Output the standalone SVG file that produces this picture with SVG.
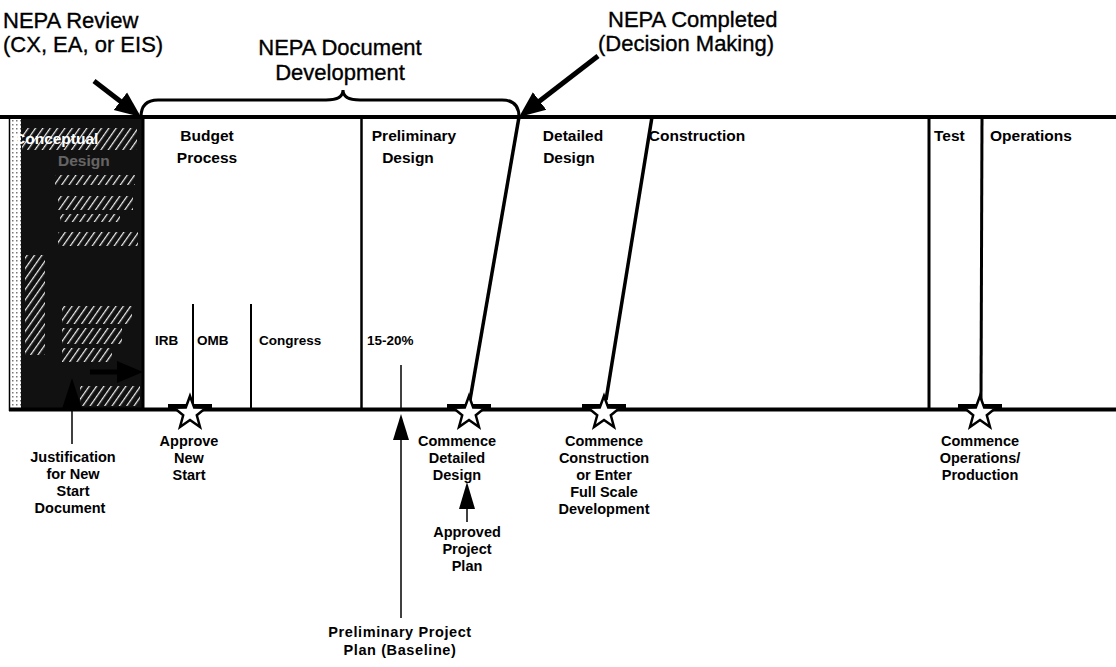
<svg xmlns="http://www.w3.org/2000/svg" width="1116" height="667" viewBox="0 0 1116 667">
<style>
text{font-family:"Liberation Sans",Arial,sans-serif;fill:#000}
.top{font-size:22px;stroke:#000;stroke-width:0.35}
.ph{font-size:15.5px;font-weight:bold}
.sub{font-size:13.5px;font-weight:bold}
.lab{font-size:14.5px;font-weight:bold;text-anchor:middle}
.rule{stroke:#000;fill:none}
.star{fill:#fff;stroke:#000;stroke-width:2.5;stroke-linejoin:miter}
</style>
<defs>
<marker id="ah" markerWidth="28" markerHeight="24" refX="11" refY="12" orient="auto" markerUnits="userSpaceOnUse">
<path d="M0,1 L26,12 L0,23 z" fill="#000"/>
</marker>
<pattern id="hatch" width="6" height="6" patternUnits="userSpaceOnUse" patternTransform="rotate(35)">
<rect width="6" height="6" fill="#111"/>
<line x1="0" y1="0" x2="0" y2="6" stroke="#eee" stroke-width="2.5"/>
</pattern>
<pattern id="dots" width="4" height="4" patternUnits="userSpaceOnUse">
<rect width="4" height="4" fill="#fff"/>
<rect width="1.5" height="1.5" fill="#777"/>
</pattern>
<polygon id="st" class="star" points="0,-17 4.2,-5.5 16,-5.3 6.8,2.3 10,14 0,7 -10,14 -6.8,2.3 -16,-5.3 -4.2,-5.5"/>
</defs>
<rect width="1116" height="667" fill="#fff"/>

<g id="conceptual">
<rect x="9" y="119" width="134" height="290" fill="#111"/>
<rect x="9" y="119" width="12" height="290" fill="url(#dots)"/>
<rect x="22" y="128" width="115" height="22" fill="url(#hatch)"/>
<rect x="55" y="175" width="80" height="10" fill="url(#hatch)"/>
<rect x="58" y="196" width="75" height="14" fill="url(#hatch)"/>
<rect x="60" y="214" width="60" height="8" fill="url(#hatch)"/>
<rect x="58" y="232" width="80" height="14" fill="url(#hatch)"/>
<rect x="25" y="255" width="20" height="100" fill="url(#hatch)"/>
<rect x="62" y="306" width="70" height="18" fill="url(#hatch)"/>
<rect x="62" y="328" width="60" height="16" fill="url(#hatch)"/>
<rect x="62" y="348" width="50" height="14" fill="url(#hatch)"/>
<rect x="80" y="386" width="60" height="20" fill="url(#hatch)"/>
<text x="14" y="144" class="ph" style="fill:#fff">Conceptual</text>
<text x="58" y="166" class="ph" style="fill:#fff;opacity:0.35">Design</text>
<line x1="90" y1="372" x2="120" y2="372" stroke="#000" stroke-width="5"/>
<polygon points="143,372 117,361 117,383" fill="#000"/>
<polygon points="72,378 62,409 82,409" fill="#000"/>
</g>

<g id="frame">
<line class="rule" x1="0" y1="117" x2="1116" y2="117" stroke-width="4"/>
<line class="rule" x1="9" y1="409.5" x2="1116" y2="409.5" stroke-width="4"/>
<line class="rule" x1="9.5" y1="117" x2="9.5" y2="411" stroke-width="1.5"/>
<line class="rule" x1="143" y1="117" x2="143" y2="409" stroke-width="3"/>
<line class="rule" x1="361.5" y1="117" x2="361.5" y2="409" stroke-width="2.5"/>
<line class="rule" x1="519" y1="117" x2="470" y2="400" stroke-width="3.5"/>
<line class="rule" x1="652" y1="117" x2="606" y2="400" stroke-width="3.5"/>
<line class="rule" x1="929" y1="117" x2="929" y2="409" stroke-width="3"/>
<line class="rule" x1="982" y1="117" x2="981" y2="400" stroke-width="3"/>
<line class="rule" x1="193" y1="304" x2="193" y2="409" stroke-width="2"/>
<line class="rule" x1="251" y1="304" x2="251" y2="409" stroke-width="2"/>
<line class="rule" x1="401" y1="365" x2="401" y2="409" stroke-width="1.5"/>
</g>

<g id="phase-labels">
<text x="207" y="141" class="ph" text-anchor="middle">Budget</text>
<text x="207" y="163" class="ph" text-anchor="middle">Process</text>
<text x="414" y="141" class="ph" text-anchor="middle">Preliminary</text>
<text x="408" y="163" class="ph" text-anchor="middle">Design</text>
<text x="573" y="141" class="ph" text-anchor="middle">Detailed</text>
<text x="569" y="163" class="ph" text-anchor="middle">Design</text>
<text x="697" y="141" class="ph" text-anchor="middle">Construction</text>
<text x="934" y="141" class="ph">Test</text>
<text x="990" y="141" class="ph">Operations</text>
<text x="155" y="345" class="sub">IRB</text>
<text x="197" y="345" class="sub">OMB</text>
<text x="259" y="345" class="sub">Congress</text>
<text x="367" y="345" class="sub">15-20%</text>
</g>

<g id="nepa-review">
<text x="3" y="28" class="top">NEPA Review</text>
<text x="3" y="52" class="top">(CX, EA, or EIS)</text>
</g>
<g id="nepa-document">
<text x="340" y="55" class="top" text-anchor="middle">NEPA Document</text>
<text x="340" y="80" class="top" text-anchor="middle">Development</text>
</g>
<g id="nepa-completed">
<text x="608" y="27" class="top">NEPA Completed</text>
<text x="598" y="51" class="top">(Decision Making)</text>
</g>

<g id="connectors">
<line x1="94" y1="81" x2="129.1" y2="107.9" stroke="#000" stroke-width="5" marker-end="url(#ah)"/>
<line x1="598" y1="56" x2="530.9" y2="107.8" stroke="#000" stroke-width="5" marker-end="url(#ah)"/>
<path class="rule" stroke-width="3" d="M141,117 Q141,100 158,100 L326,100 Q343,100 343,90 Q343,100 360,100 L502,100 Q519,100 519,117"/>
<line x1="72" y1="409" x2="72" y2="444" stroke="#000" stroke-width="1.5"/>
<line x1="401" y1="438" x2="401" y2="618" stroke="#000" stroke-width="1.5"/>
<polygon points="401,414 393,440 409,440" fill="#000"/>
<line x1="467" y1="505" x2="467" y2="522" stroke="#000" stroke-width="1.5"/>
<polygon points="467,482 459,509 475,509" fill="#000"/>
</g>

<g id="milestones">
<rect x="168" y="404" width="44" height="6" fill="#000"/>
<use href="#st" x="190" y="413"/>
<rect x="447" y="404" width="44" height="6" fill="#000"/>
<use href="#st" x="469" y="413"/>
<rect x="582" y="404" width="44" height="6" fill="#000"/>
<use href="#st" x="604" y="413"/>
<rect x="958" y="404" width="44" height="6" fill="#000"/>
<use href="#st" x="980" y="413"/>
</g>

<g id="justification">
<text class="lab" x="73" y="462">Justification</text>
<text class="lab" x="73" y="479">for New</text>
<text class="lab" x="73" y="496">Start</text>
<text class="lab" x="70" y="513">Document</text>
</g>
<g id="approve-new-start">
<text class="lab" x="189" y="446">Approve</text>
<text class="lab" x="189" y="463">New</text>
<text class="lab" x="189" y="480">Start</text>
</g>
<g id="commence-detailed">
<text class="lab" x="457" y="446">Commence</text>
<text class="lab" x="457" y="463">Detailed</text>
<text class="lab" x="457" y="480">Design</text>
</g>
<g id="approved-plan">
<text class="lab" x="467" y="537">Approved</text>
<text class="lab" x="467" y="554">Project</text>
<text class="lab" x="467" y="571">Plan</text>
</g>
<g id="preliminary-plan">
<text class="lab" x="400" y="637" style="letter-spacing:0.6px">Preliminary Project</text>
<text class="lab" x="400" y="655" style="letter-spacing:0.6px">Plan (Baseline)</text>
</g>
<g id="commence-construction">
<text class="lab" x="604" y="446">Commence</text>
<text class="lab" x="604" y="463">Construction</text>
<text class="lab" x="604" y="480">or Enter</text>
<text class="lab" x="604" y="497">Full Scale</text>
<text class="lab" x="604" y="514">Development</text>
</g>
<g id="commence-operations">
<text class="lab" x="980" y="446">Commence</text>
<text class="lab" x="980" y="463">Operations/</text>
<text class="lab" x="980" y="480">Production</text>
</g>
</svg>
